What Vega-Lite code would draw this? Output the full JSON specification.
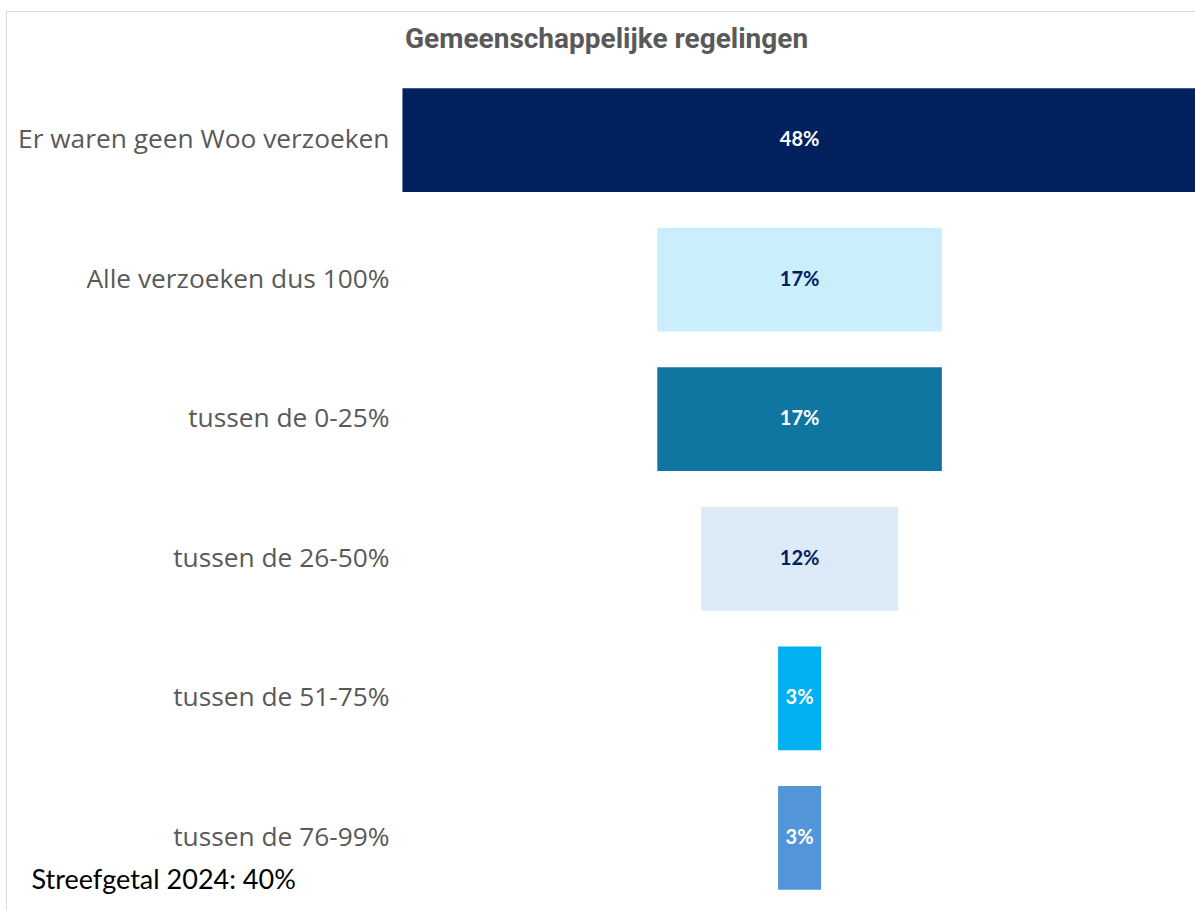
{
  "$schema": "https://vega.github.io/schema/vega-lite/v6.json",
  "width": 1195,
  "height": 956,
  "autosize": {"type": "none"},
  "padding": {"left": 6, "top": 11, "right": 0, "bottom": 0},
  "background": "white",
  "config": {"view": {"stroke": "#d9d9d9", "strokeWidth": 1}},
  "title": {
    "text": "Gemeenschappelijke regelingen",
    "anchor": "start",
    "frame": "group",
    "dx": 399,
    "dy": 43,
    "offset": 0,
    "font": "Roboto",
    "fontSize": 28,
    "fontWeight": "bold",
    "color": "#595959"
  },
  "data": {
    "values": [
      {"cat": "Er waren geen Woo verzoeken", "value": 48, "label": "48%"},
      {"cat": "Alle verzoeken dus 100%", "value": 17.2, "label": "17%"},
      {"cat": "tussen de 0-25%", "value": 17.2, "label": "17%"},
      {"cat": "tussen de 26-50%", "value": 11.9, "label": "12%"},
      {"cat": "tussen de 51-75%", "value": 2.6, "label": "3%"},
      {"cat": "tussen de 76-99%", "value": 2.6, "label": "3%"}
    ]
  },
  "encoding": {
    "y": {
      "field": "cat",
      "type": "nominal",
      "sort": null,
      "scale": {"paddingInner": 0.2565, "paddingOuter": 0.554},
      "axis": {
        "orient": "left",
        "offset": -383,
        "domain": false,
        "ticks": false,
        "labelPadding": 0,
        "labelFont": "Open Sans",
        "labelFontSize": 26.3,
        "labelColor": "#595959",
        "labelLimit": 600,
        "title": null
      }
    }
  },
  "layer": [
    {
      "mark": {"type": "bar"},
      "encoding": {
        "x": {
          "field": "value",
          "type": "quantitative",
          "stack": "center",
          "scale": {"domain": [-23.96, 48.26], "nice": false, "zero": false},
          "axis": {
            "orient": "top",
            "domain": false,
            "ticks": false,
            "labels": false,
            "grid": false,
            "title": "Streefgetal 2024: 40%",
            "titleX": 25,
            "titleY": 877,
            "titleAlign": "left",
            "titleBaseline": "alphabetic",
            "titleFont": "Lato",
            "titleFontSize": 27,
            "titleFontWeight": "normal",
            "titleColor": "#000000"
          }
        },
        "color": {
          "field": "cat",
          "type": "nominal",
          "scale": {
            "domain": ["Er waren geen Woo verzoeken", "Alle verzoeken dus 100%", "tussen de 0-25%", "tussen de 26-50%", "tussen de 51-75%", "tussen de 76-99%"],
            "range": ["#00205E", "#CAEEFB", "#0E76A0", "#DCEAF7", "#00B0F0", "#5296D9"]
          },
          "legend": null
        }
      }
    },
    {
      "mark": {"type": "text", "font": "Lato", "fontSize": 20, "fontWeight": "bold", "align": "center", "baseline": "middle"},
      "encoding": {
        "x": {"datum": 24, "type": "quantitative"},
        "text": {"field": "label"},
        "color": {
          "condition": {"test": "datum.cat === 'Alle verzoeken dus 100%' || datum.cat === 'tussen de 26-50%'", "value": "#002060"},
          "value": "#ffffff"
        }
      }
    }
  ]
}
